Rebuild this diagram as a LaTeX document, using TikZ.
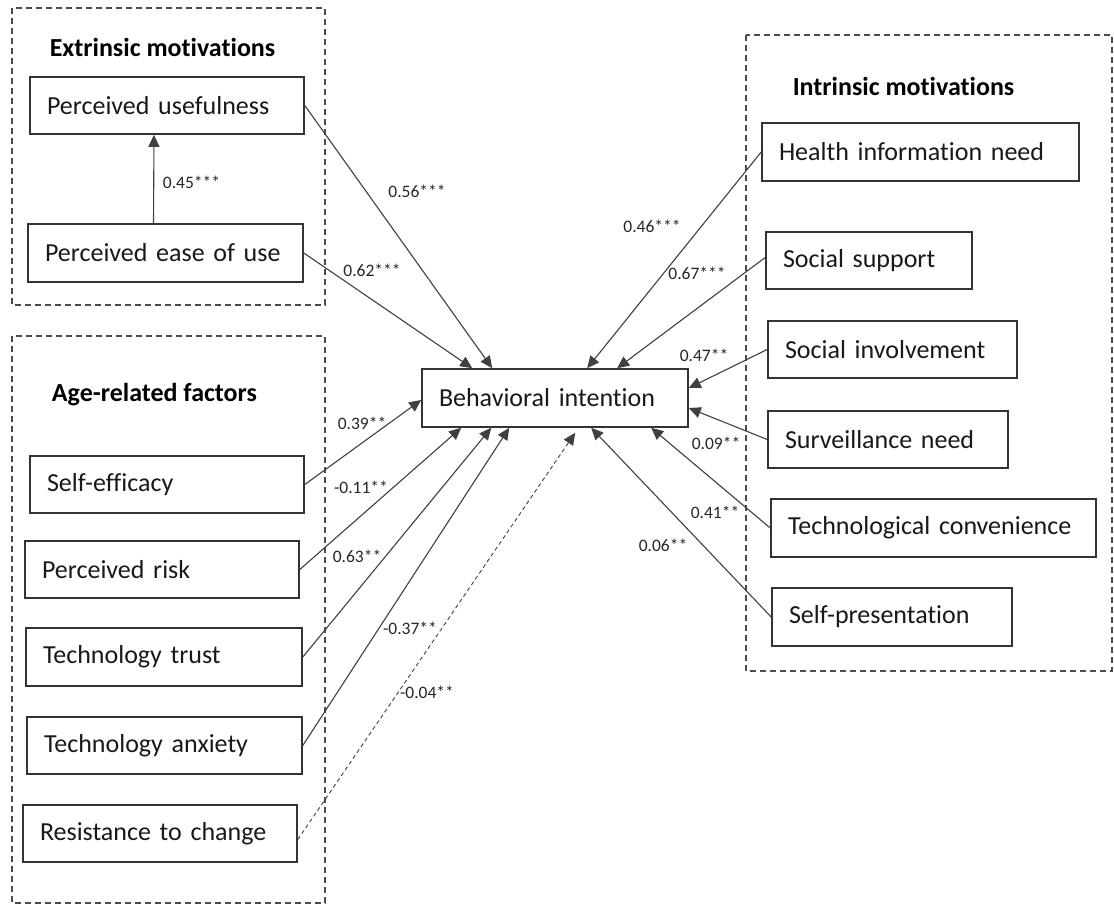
\documentclass[tikz,border=0pt]{standalone}
\usepackage{fontspec}
\setmainfont{Carlito}[Ligatures=NoCommon]
\usetikzlibrary{arrows.meta}
\begin{document}
\begin{tikzpicture}[x=1pt,y=-1pt,
  factor/.style={draw=black!80, line width=1.6pt, fill=white, align=left,
    inner xsep=17pt, inner ysep=0pt, text=black!90,
    font=\fontsize{26}{30}\selectfont},
  heading/.style={inner sep=0pt, text=black,
    font=\fontsize{26}{30}\selectfont\bfseries},
  coef/.style={inner sep=0pt, text=black!85, font=\fontsize{17.5}{20}\selectfont},
  group/.style={draw=black!70, line width=1.5pt, dash pattern=on 6pt off 4pt},
  path/.style={draw=black!75, line width=1.1pt, -{Triangle[length=12pt,width=11pt]}},
  weakpath/.style={path, line width=0.9pt, dash pattern=on 4pt off 3pt}
]
\useasboundingbox (0,0) rectangle (1114,905);
\fill[white] (0,0) rectangle (1114,905);

% dashed groupings
\draw[group] (12,8) rectangle (325,305);
\draw[group] (12,336) rectangle (325,903);
\draw[group] (746,35) rectangle (1112,671);

% group headings
\node[heading] (hext) at (162.5,47) {Extrinsic motivations};
\node[heading] (hage) at (154.5,395) {Age-related factors};
\node[heading] (hint) at (903.5,86) {Intrinsic motivations};

% central construct
\node[factor, text width=232pt, minimum height=58pt] (bi) at (555,398) {Behavioral intention};

% extrinsic motivations
\node[factor, text width=240pt, minimum height=57pt] (pu) at (167,105.5) {Perceived usefulness};
\node[factor, text width=241pt, minimum height=58pt] (peou) at (165.5,253) {Perceived ease of use};

% age-related factors
\node[factor, text width=240pt, minimum height=57pt] (se) at (167,484.5) {Self-efficacy};
\node[factor, text width=240pt, minimum height=57pt] (pr) at (162,569.5) {Perceived risk};
\node[factor, text width=242pt, minimum height=58pt] (tt) at (164,657) {Technology trust};
\node[factor, text width=241pt, minimum height=57pt] (ta) at (164.5,745.5) {Technology anxiety};
\node[factor, text width=240pt, minimum height=57pt] (rc) at (160,833.5) {Resistance to change};

% intrinsic motivations
\node[factor, text width=283pt, minimum height=58pt] (hi) at (920.5,152) {Health information need};
\node[factor, text width=172pt, minimum height=57pt] (ss) at (869,260.5) {Social support};
\node[factor, text width=215pt, minimum height=57pt] (si) at (892.5,349.5) {Social involvement};
\node[factor, text width=206pt, minimum height=57pt] (sn) at (888,439.5) {Surveillance need};
\node[factor, text width=291pt, minimum height=58pt] (tc) at (933.5,528) {Technological convenience};
\node[factor, text width=206pt, minimum height=58pt] (sp) at (892,617) {Self-presentation};

% paths
\draw[path] ([xshift=-12pt]peou.north) -- ([xshift=-13pt]pu.south);
\draw[path] (pu.east) -- ([xshift=71pt]bi.north west);
\draw[path] (peou.east) -- ([xshift=51pt]bi.north west);
\draw[path] (se.east) -- ([yshift=-2pt]bi.west);
\draw[path] (pr.east) -- ([xshift=40pt]bi.south west);
\draw[path] (tt.east) -- ([xshift=70pt]bi.south west);
\draw[path] (ta.east) -- ([xshift=88pt]bi.south west);
\draw[weakpath] ([yshift=-6pt]rc.east) -- ([xshift=154pt,yshift=-5pt]bi.south west);
\draw[path] (hi.west) -- ([xshift=166pt]bi.north west);
\draw[path] ([yshift=3pt]ss.west) -- ([xshift=196pt]bi.north west);
\draw[path] (si.west) -- ([yshift=10pt]bi.east);
\draw[path] (sn.west) -- ([yshift=-10pt]bi.east);
\draw[path] (tc.west) -- ([xshift=230pt]bi.south west);
\draw[path] (sp.west) -- ([xshift=170pt]bi.south west);

% path coefficients
\node[coef] (c1) at (191.5,182) {0.45***};
\node[coef] (c2) at (417,191) {0.56***};
\node[coef] (c3) at (372,270) {0.62***};
\node[coef] (c4) at (362,423) {0.39**};
\node[coef] (c5) at (361,487) {-0.11**};
\node[coef] (c6) at (357,556) {0.63**};
\node[coef] (c7) at (410,628) {-0.37**};
\node[coef] (c8) at (427,692) {-0.04**};
\node[coef] (c9) at (652,226) {0.46***};
\node[coef] (c10) at (697,273) {0.67***};
\node[coef] (c11) at (704,355) {0.47**};
\node[coef] (c12) at (716,443) {0.09**};
\node[coef] (c13) at (715,512) {0.41**};
\node[coef] (c14) at (663,545) {0.06**};
\end{tikzpicture}
\end{document}
